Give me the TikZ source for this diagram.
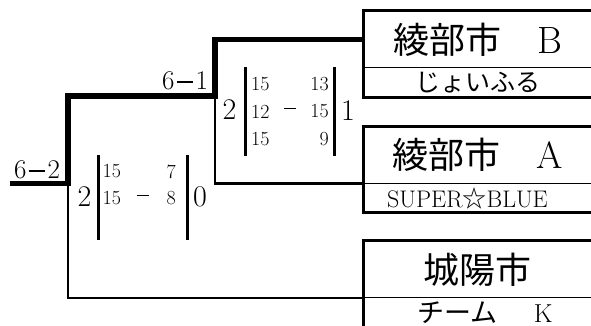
\documentclass[tikz,border=0pt]{standalone}
\usepackage{fontspec}
\newfontfamily\jf{Noto Sans CJK JP}
\newcommand{\dashbar}{\kern0.08em\rule[0.26em]{0.62em}{0.055em}\kern0.08em}

\tikzstyle{nameS}=[minimum width=227pt,minimum height=57pt,inner sep=0pt,font=\fontsize{36}{36}\selectfont]
\tikzstyle{teamS}=[minimum width=227pt,minimum height=29pt,inner sep=0pt,font=\fontsize{25}{25}\selectfont]
\tikzstyle{boxS}=[line width=3pt]
\tikzstyle{divS}=[line width=1.2pt]
\tikzstyle{winS}=[line width=5.5pt]
\tikzstyle{loseS}=[line width=2.5pt]
\tikzstyle{barS}=[line width=3pt]
\tikzstyle{bigS}=[inner sep=0pt,font=\fontsize{30}{30}\selectfont]
\tikzstyle{setS}=[inner sep=0pt,font=\fontsize{20}{20}\selectfont]
\tikzstyle{resS}=[inner sep=0pt,font=\fontsize{27}{27}\selectfont]

\begin{document}
\begin{tikzpicture}[x=1pt,y=-1pt]
                \useasboundingbox (0,0) rectangle (591,326);
                % teams
                \draw (477.5,39.5) node[nameS] (n1) {{\jf 綾部市　}{\fontsize{38}{38}\selectfont B}};
                \draw (477.5,82.5) node[teamS] (m1) {\jf じょいふる};
                \draw (477.5,155) node[nameS] (n2) {{\jf 綾部市　}{\fontsize{38}{38}\selectfont A}};
                \draw (477.5,198) node[teamS,font=\fontsize{24}{24}\selectfont] (m2) {\hspace*{-20pt}SUPER{\jf ☆}BLUE};
                \draw (477.5,269.5) node[nameS] (n3) {\jf 城陽市};
                \draw (477.5,312.5) node[teamS,font=\fontsize{27}{27}\selectfont] (m3) {\hspace*{15pt}{\jf チーム}\hspace{36pt}{\fontsize{26}{26}\selectfont K}};
                \draw[boxS] (n1.north east) -- (n1.north west) -- (m1.south west) -- (m1.south east);
                \draw[boxS] (n2.north east) -- (n2.north west) -- (m2.south west) -- (m2.south east);
                \draw[boxS] (n3.north east) -- (n3.north west) -- (m3.south west) -- (m3.south east);
                \draw[divS] (m1.north west) -- (m1.north east);
                \draw[divS] (m2.north west) -- (m2.north east);
                \draw[divS] (m3.north west) -- (m3.north east);
                % bracket
                \coordinate (f0) at (10,183.5);
                \coordinate (k0) at (68,183.5);
                \coordinate (k1) at (68,96);
                \coordinate (k2) at (215,96);
                \coordinate (k3) at (215,39.5);
                \draw[loseS] (k2) |- (m2.north west);
                \draw[loseS] (k0) |- (m3.north west);
                \draw[winS] (f0) -- (k0) -- (k1) -- (k2) -- (k3) -- (n1.west);
                \draw (37,170) node[resS] (r0) {6\dashbar 2};
                \draw (185,81) node[resS] (r1) {6\dashbar 1};
                % semi final
                \draw[barS] (245,67) -- (245,156);
                \draw[barS] (334.5,67) -- (334.5,156);
                \draw (229.5,110) node[bigS] (s1a) {2};
                \draw (348,111) node[bigS] (s1b) {1};
                \draw (251,84) node[setS,anchor=west] {15};
                \draw (251,111.5) node[setS,anchor=west] {12};
                \draw (251,139) node[setS,anchor=west] {15};
                \draw (290,111.5) node[setS] {\dashbar};
                \draw (329,84) node[setS,anchor=east] {13};
                \draw (329,111.5) node[setS,anchor=east] {15};
                \draw (329,139) node[setS,anchor=east] {9};
                % final
                \draw[barS] (98.5,155) -- (98.5,240);
                \draw[barS] (187,155) -- (187,240);
                \draw (84.5,197) node[bigS] (s0a) {2};
                \draw (200,197) node[bigS] (s0b) {0};
                \draw (102.5,171.5) node[setS,anchor=west] {15};
                \draw (102.5,198.5) node[setS,anchor=west] {15};
                \draw (143,198.5) node[setS] {\dashbar};
                \draw (176,171.5) node[setS,anchor=east] {7};
                \draw (176,198.5) node[setS,anchor=east] {8};
        \end{tikzpicture}
\end{document}
